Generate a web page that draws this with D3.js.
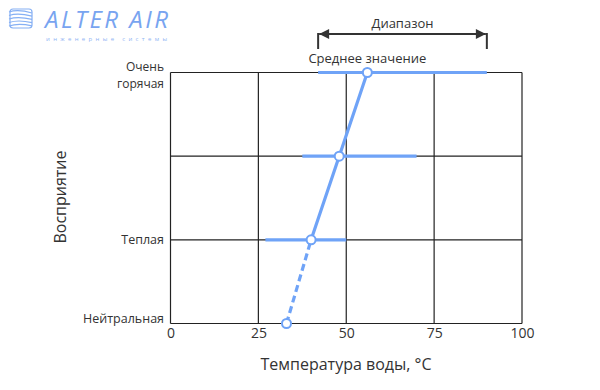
<!DOCTYPE html>
<html>
<head>
<meta charset="utf-8">
<script src="https://cdn.jsdelivr.net/npm/d3@7"></script>
<style>
  body { margin: 0; background: #fff; }
  text { font-family: "Open Sans", "Noto Sans", sans-serif; fill: #333; }
</style>
</head>
<body>
<svg id="chart" width="600" height="390"></svg>
<script>
const levels = ["Нейтральная", "Теплая", "", "Очень горячая"];
const xTicks = [0, 25, 50, 75, 100];

// mean temperature per perception level, with range
const points = [
	{ level: 0, mean: 33 },
	{ level: 1, mean: 40, lo: 27, hi: 50 },
	{ level: 2, mean: 48, lo: 37.5, hi: 70 },
	{ level: 3, mean: 56, lo: 42, hi: 90 }
];

const svg = d3.select("#chart");
const blue = "#6fa3f7";
const dark = "#222";

const xScale = d3.scaleLinear().domain([0, 100]).range([170.5, 522]);
const yScale = d3.scaleLinear().domain([0, 3]).range([323.5, 72.5]);

// grid
const gridG = svg.append("g");
gridG.selectAll(".vgrid")
	.data(xTicks)
	.enter()
	.append("line")
	.attr("x1", d => xScale(d))
	.attr("x2", d => xScale(d))
	.attr("y1", yScale(0))
	.attr("y2", yScale(3))
	.attr("stroke", dark)
	.attr("stroke-width", 1.2);

gridG.selectAll(".hgrid")
	.data(d3.range(levels.length))
	.enter()
	.append("line")
	.attr("x1", xScale(0))
	.attr("x2", xScale(100))
	.attr("y1", d => yScale(d))
	.attr("y2", d => yScale(d))
	.attr("stroke", dark)
	.attr("stroke-width", 1.2);

// axis - x
svg.append("g")
	.attr("transform", `translate(0, ${yScale(0)})`)
	.call(d3.axisBottom(xScale).tickValues(xTicks).tickSize(0).tickPadding(5))
	.call(g => g.select(".domain").remove())
	.selectAll("text")
	.style("font-family", "\"Open Sans\", sans-serif")
	.style("font-size", "14px")
	.style("fill", "#333");

// axis - y labels
const yLab = svg.append("g");
levels.forEach((name, i) => {
	if (!name) return;
	const words = i === 3 ? ["Очень", "горячая"] : [name];
	words.forEach((w, j) => {
		let yy = yScale(i) + 4;
		if (i === 3) yy = yScale(i) - 1.5 + j * 16.5;
		if (i === 0) yy = yScale(i) - 1;
		yLab.append("text")
			.attr("text-anchor", "end")
			.style("font-size", i === 3 ? "12px" : "12.5px")
			.attr("x", 164)
			.attr("y", yy)
			.text(w);
	});
});

// axis titles
svg.append("text")
	.attr("transform", `translate(66, 197) rotate(-90)`)
	.attr("text-anchor", "middle")
	.style("font-size", "16px")
	.text("Восприятие");

svg.append("text")
	.attr("x", 346)
	.attr("y", 370)
	.attr("text-anchor", "middle")
	.style("font-size", "16px")
	.text("Температура воды, °C");

// ranges
svg.selectAll(".range")
	.data(points.filter(d => d.lo !== undefined))
	.enter()
	.append("line")
	.attr("x1", d => xScale(d.lo))
	.attr("x2", d => xScale(d.hi))
	.attr("y1", d => yScale(d.level))
	.attr("y2", d => yScale(d.level))
	.attr("stroke", blue)
	.attr("stroke-width", 3.2);

// mean line
const line = d3.line().x(d => xScale(d.mean)).y(d => yScale(d.level));
svg.append("path")
	.attr("d", line(points.slice(0, 2)))
	.attr("fill", "none")
	.attr("stroke", blue)
	.attr("stroke-width", 3.2)
	.attr("stroke-dasharray", "7,4");
svg.append("path")
	.attr("d", line(points.slice(1)))
	.attr("fill", "none")
	.attr("stroke", blue)
	.attr("stroke-width", 3.2);

svg.selectAll(".pt")
	.data(points)
	.enter()
	.append("circle")
	.attr("cx", d => xScale(d.mean))
	.attr("cy", d => yScale(d.level))
	.attr("r", 4.5)
	.attr("fill", "#fff")
	.attr("stroke", blue)
	.attr("stroke-width", 2);

// annotations
const topPt = points[3];
svg.append("text")
	.attr("x", xScale(topPt.mean))
	.attr("y", 63)
	.attr("text-anchor", "middle")
	.style("font-size", "13px")
	.text("Среднее значение");

svg.append("defs").append("marker")
	.attr("id", "arr")
	.attr("viewBox", "0 0 10 10")
	.attr("refX", 10)
	.attr("refY", 5)
	.attr("markerWidth", 7)
	.attr("markerHeight", 5)
	.attr("markerUnits", "strokeWidth")
	.attr("orient", "auto-start-reverse")
	.append("path")
	.attr("d", "M0,0L10,5L0,10Z")
	.attr("fill", "#333");

const ay = 34;
svg.append("line")
	.attr("x1", xScale(topPt.lo) + 1)
	.attr("x2", xScale(topPt.hi) - 1)
	.attr("y1", ay)
	.attr("y2", ay)
	.attr("stroke", "#333")
	.attr("stroke-width", 2)
	.attr("marker-start", "url(#arr)")
	.attr("marker-end", "url(#arr)");
[topPt.lo, topPt.hi].forEach(v => {
	svg.append("line")
		.attr("x1", xScale(v))
		.attr("x2", xScale(v))
		.attr("y1", ay - 1)
		.attr("y2", 49)
		.attr("stroke", "#333")
		.attr("stroke-width", 2);
});
svg.append("text")
	.attr("x", (xScale(topPt.lo) + xScale(topPt.hi)) / 2)
	.attr("y", 28)
	.attr("text-anchor", "middle")
	.style("font-size", "13px")
	.text("Диапазон");

// logo
const logo = svg.append("g");
logo.append("rect")
	.attr("x", 10).attr("y", 9).attr("width", 22).attr("height", 19).attr("rx", 3)
	.attr("fill", "none").attr("stroke", "#86b0f4").attr("stroke-width", 1.2);
[0, 1, 2, 3, 4].forEach(i => {
	logo.append("path")
		.attr("d", `M9,${12 + i * 3.5} Q18,${9 + i * 3.5} 32,${13 + i * 3.2}`)
		.attr("fill", "none")
		.attr("stroke", "#86b0f4")
		.attr("stroke-width", 1.2);
});
logo.append("text")
	.attr("x", 45).attr("y", 28)
	.style("font-family", "\"Open Sans\", sans-serif")
	.style("font-size", "24px")
	.style("font-style", "italic")
	.style("font-weight", 400)
	.style("fill", "#78a4f0")
	.attr("textLength", 123)
	.text("ALTER AIR");
logo.append("text")
	.attr("x", 46).attr("y", 41)
	.style("font-size", "6px")
	.style("fill", "#8fb4f4")
	.attr("textLength", 121)
	.text("инженерные системы");
</script>
</body>
</html>
